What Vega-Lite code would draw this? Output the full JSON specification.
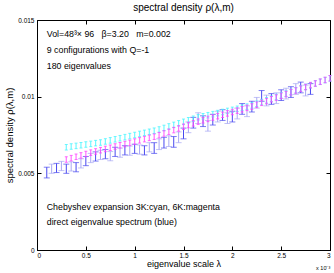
{
  "$schema": "https://vega.github.io/schema/vega-lite/v6.json",
  "width": 293,
  "height": 230,
  "autosize": {"type": "none"},
  "padding": {"left": 37, "top": 20, "right": 4, "bottom": 23},
  "background": "white",
  "config": {
    "font": "Liberation Sans",
    "view": {"stroke": "black", "strokeWidth": 1},
    "axis": {
      "domainColor": "black",
      "tickColor": "black",
      "labelColor": "black",
      "titleColor": "black",
      "labelFont": "Liberation Sans",
      "titleFont": "Liberation Sans",
      "labelFontSize": 6.5,
      "titleFontSize": 9.5,
      "titleFontWeight": "normal",
      "grid": false
    }
  },
  "title": {"text": "spectral density ρ(λ,m)", "fontSize": 10, "fontWeight": "normal", "font": "Liberation Sans", "offset": 4, "anchor": "middle", "color": "black"},
  "datasets": {
    "blue": [
      {"x": 0.10, "y": 0.00505, "e": 0.00035, "g": "a"},
      {"x": 0.15, "y": 0.00530, "e": 0.00030, "g": "b"},
      {"x": 0.20, "y": 0.00535, "e": 0.00030, "g": "a"},
      {"x": 0.25, "y": 0.00548, "e": 0.00030, "g": "b"},
      {"x": 0.30, "y": 0.00530, "e": 0.00030, "g": "a"},
      {"x": 0.35, "y": 0.00545, "e": 0.00030, "g": "b"},
      {"x": 0.40, "y": 0.00540, "e": 0.00030, "g": "a"},
      {"x": 0.45, "y": 0.00565, "e": 0.00030, "g": "b"},
      {"x": 0.50, "y": 0.00580, "e": 0.00030, "g": "a"},
      {"x": 0.55, "y": 0.00600, "e": 0.00030, "g": "b"},
      {"x": 0.60, "y": 0.00610, "e": 0.00030, "g": "a"},
      {"x": 0.65, "y": 0.00620, "e": 0.00030, "g": "b"},
      {"x": 0.70, "y": 0.00625, "e": 0.00030, "g": "a"},
      {"x": 0.75, "y": 0.00612, "e": 0.00030, "g": "b"},
      {"x": 0.80, "y": 0.00640, "e": 0.00030, "g": "a"},
      {"x": 0.85, "y": 0.00635, "e": 0.00030, "g": "b"},
      {"x": 0.90, "y": 0.00650, "e": 0.00030, "g": "a"},
      {"x": 0.95, "y": 0.00648, "e": 0.00030, "g": "b"},
      {"x": 1.00, "y": 0.00660, "e": 0.00030, "g": "a"},
      {"x": 1.05, "y": 0.00655, "e": 0.00030, "g": "b"},
      {"x": 1.10, "y": 0.00650, "e": 0.00030, "g": "a"},
      {"x": 1.15, "y": 0.00670, "e": 0.00030, "g": "b"},
      {"x": 1.20, "y": 0.00665, "e": 0.00035, "g": "a"},
      {"x": 1.25, "y": 0.00690, "e": 0.00035, "g": "b"},
      {"x": 1.30, "y": 0.00700, "e": 0.00035, "g": "a"},
      {"x": 1.35, "y": 0.00710, "e": 0.00035, "g": "b"},
      {"x": 1.40, "y": 0.00705, "e": 0.00035, "g": "a"},
      {"x": 1.45, "y": 0.00735, "e": 0.00035, "g": "b"},
      {"x": 1.50, "y": 0.00760, "e": 0.00035, "g": "a"},
      {"x": 1.55, "y": 0.00800, "e": 0.00035, "g": "b"},
      {"x": 1.60, "y": 0.00830, "e": 0.00035, "g": "a"},
      {"x": 1.65, "y": 0.00860, "e": 0.00035, "g": "b"},
      {"x": 1.70, "y": 0.00840, "e": 0.00035, "g": "a"},
      {"x": 1.75, "y": 0.00810, "e": 0.00035, "g": "b"},
      {"x": 1.80, "y": 0.00850, "e": 0.00035, "g": "a"},
      {"x": 1.85, "y": 0.00870, "e": 0.00035, "g": "b"},
      {"x": 1.90, "y": 0.00880, "e": 0.00035, "g": "a"},
      {"x": 1.95, "y": 0.00860, "e": 0.00035, "g": "b"},
      {"x": 2.00, "y": 0.00870, "e": 0.00035, "g": "a"},
      {"x": 2.05, "y": 0.00890, "e": 0.00035, "g": "b"},
      {"x": 2.10, "y": 0.00920, "e": 0.00035, "g": "a"},
      {"x": 2.15, "y": 0.00905, "e": 0.00035, "g": "b"},
      {"x": 2.20, "y": 0.00935, "e": 0.00035, "g": "a"},
      {"x": 2.25, "y": 0.00960, "e": 0.00035, "g": "b"},
      {"x": 2.30, "y": 0.01005, "e": 0.00035, "g": "a"},
      {"x": 2.35, "y": 0.00975, "e": 0.00035, "g": "b"},
      {"x": 2.40, "y": 0.00985, "e": 0.00035, "g": "a"},
      {"x": 2.45, "y": 0.00990, "e": 0.00035, "g": "b"},
      {"x": 2.50, "y": 0.01010, "e": 0.00035, "g": "a"},
      {"x": 2.55, "y": 0.01020, "e": 0.00035, "g": "b"},
      {"x": 2.60, "y": 0.01030, "e": 0.00035, "g": "a"},
      {"x": 2.65, "y": 0.01050, "e": 0.00035, "g": "b"},
      {"x": 2.70, "y": 0.01060, "e": 0.00035, "g": "a"},
      {"x": 2.75, "y": 0.01040, "e": 0.00035, "g": "b"},
      {"x": 2.80, "y": 0.01050, "e": 0.00035, "g": "a"}
    ],
    "cyan": [
      {"x": 0.30, "y": 0.00670}, {"x": 0.35, "y": 0.00675}, {"x": 0.40, "y": 0.00679}, {"x": 0.45, "y": 0.00683},
      {"x": 0.50, "y": 0.00688}, {"x": 0.55, "y": 0.00692}, {"x": 0.60, "y": 0.00697}, {"x": 0.65, "y": 0.00701},
      {"x": 0.70, "y": 0.00708}, {"x": 0.75, "y": 0.00715}, {"x": 0.80, "y": 0.00722}, {"x": 0.85, "y": 0.00729},
      {"x": 0.90, "y": 0.00736}, {"x": 0.95, "y": 0.00743}, {"x": 1.00, "y": 0.00750}, {"x": 1.05, "y": 0.00757},
      {"x": 1.10, "y": 0.00764}, {"x": 1.15, "y": 0.00771}, {"x": 1.20, "y": 0.00778}, {"x": 1.25, "y": 0.00786},
      {"x": 1.30, "y": 0.00796}, {"x": 1.35, "y": 0.00806}, {"x": 1.40, "y": 0.00816}, {"x": 1.45, "y": 0.00826},
      {"x": 1.50, "y": 0.00836}, {"x": 1.55, "y": 0.00846}, {"x": 1.60, "y": 0.00856}, {"x": 1.65, "y": 0.00865},
      {"x": 1.70, "y": 0.00872}, {"x": 1.75, "y": 0.00879}, {"x": 1.80, "y": 0.00886}, {"x": 1.85, "y": 0.00893},
      {"x": 1.90, "y": 0.00900}, {"x": 1.95, "y": 0.00907}, {"x": 2.00, "y": 0.00914}, {"x": 2.05, "y": 0.00921},
      {"x": 2.10, "y": 0.00928}, {"x": 2.15, "y": 0.00935}, {"x": 2.20, "y": 0.00943}, {"x": 2.25, "y": 0.00954},
      {"x": 2.30, "y": 0.00965}, {"x": 2.35, "y": 0.00976}, {"x": 2.40, "y": 0.00987}, {"x": 2.45, "y": 0.00998},
      {"x": 2.50, "y": 0.01009}, {"x": 2.55, "y": 0.01020}, {"x": 2.60, "y": 0.01031}, {"x": 2.65, "y": 0.01042},
      {"x": 2.70, "y": 0.01053}, {"x": 2.75, "y": 0.01064}, {"x": 2.80, "y": 0.01075}, {"x": 2.85, "y": 0.01086},
      {"x": 2.90, "y": 0.01097}, {"x": 2.95, "y": 0.01108}, {"x": 3.00, "y": 0.01119}
    ],
    "magenta": [
      {"x": 0.30, "y": 0.00590}, {"x": 0.35, "y": 0.00599}, {"x": 0.40, "y": 0.00608}, {"x": 0.45, "y": 0.00617},
      {"x": 0.50, "y": 0.00626}, {"x": 0.55, "y": 0.00635}, {"x": 0.60, "y": 0.00643}, {"x": 0.65, "y": 0.00651},
      {"x": 0.70, "y": 0.00659}, {"x": 0.75, "y": 0.00667}, {"x": 0.80, "y": 0.00675}, {"x": 0.85, "y": 0.00683},
      {"x": 0.90, "y": 0.00691}, {"x": 0.95, "y": 0.00699}, {"x": 1.00, "y": 0.00707}, {"x": 1.05, "y": 0.00715},
      {"x": 1.10, "y": 0.00723}, {"x": 1.15, "y": 0.00731}, {"x": 1.20, "y": 0.00739}, {"x": 1.25, "y": 0.00749},
      {"x": 1.30, "y": 0.00760}, {"x": 1.35, "y": 0.00771}, {"x": 1.40, "y": 0.00782}, {"x": 1.45, "y": 0.00793},
      {"x": 1.50, "y": 0.00804}, {"x": 1.55, "y": 0.00815}, {"x": 1.60, "y": 0.00826}, {"x": 1.65, "y": 0.00837},
      {"x": 1.70, "y": 0.00846}, {"x": 1.75, "y": 0.00855}, {"x": 1.80, "y": 0.00864}, {"x": 1.85, "y": 0.00873},
      {"x": 1.90, "y": 0.00882}, {"x": 1.95, "y": 0.00891}, {"x": 2.00, "y": 0.00900}, {"x": 2.05, "y": 0.00909},
      {"x": 2.10, "y": 0.00918}, {"x": 2.15, "y": 0.00927}, {"x": 2.20, "y": 0.00936}, {"x": 2.25, "y": 0.00948},
      {"x": 2.30, "y": 0.00960}, {"x": 2.35, "y": 0.00971}, {"x": 2.40, "y": 0.00983}, {"x": 2.45, "y": 0.00994},
      {"x": 2.50, "y": 0.01006}, {"x": 2.55, "y": 0.01017}, {"x": 2.60, "y": 0.01029}, {"x": 2.65, "y": 0.01040},
      {"x": 2.70, "y": 0.01052}, {"x": 2.75, "y": 0.01063}, {"x": 2.80, "y": 0.01075}, {"x": 2.85, "y": 0.01086},
      {"x": 2.90, "y": 0.01098}, {"x": 2.95, "y": 0.01109}, {"x": 3.00, "y": 0.01120}
    ],
    "notes": [
      {"x": 0.10, "y": 0.01409, "t": "Vol=48³× 96\u00a0\u00a0\u00a0β=3.20\u00a0\u00a0\u00a0m=0.002"},
      {"x": 0.10, "y": 0.01304, "t": "9 configurations with Q=-1"},
      {"x": 0.10, "y": 0.01200, "t": "180 eigenvalues"},
      {"x": 0.10, "y": 0.00280, "t": "Chebyshev expansion 3K:cyan, 6K:magenta"},
      {"x": 0.10, "y": 0.00183, "t": "direct eigenvalue spectrum (blue)"}
    ],
    "exp": [
      {"x": 2.93, "y": -0.00118, "t": "x 10⁻³"}
    ]
  },
  "resolve": {"axis": {"x": "independent", "y": "independent"}},
  "layer": [
    {
      "data": {"name": "blue"},
      "mark": {"type": "errorbar", "ticks": {"size": 6, "thickness": 1}, "thickness": 1},
      "encoding": {
        "x": {"field": "x", "type": "quantitative", "scale": {"domain": [0, 3], "nice": false, "zero": false},
              "axis": {"values": [0, 0.5, 1, 1.5, 2, 2.5, 3], "format": "~g", "title": "eigenvalue scale λ", "titleFontSize": 9, "ticks": false, "labelPadding": 2, "titlePadding": 1}},
        "y": {"field": "y", "type": "quantitative", "scale": {"domain": [0, 0.015], "nice": false, "zero": false},
              "axis": {"values": [0, 0.005, 0.01, 0.015], "labelExpr": "datum.value > 0.012 ? '0.015' : datum.value > 0.008 ? '0.01' : datum.value > 0.003 ? '0.005' : '0'", "labelOverlap": false, "labelBound": false, "title": "spectral density  ρ(λ,m)", "ticks": false, "labelPadding": 3, "titlePadding": 3}},
        "yError": {"field": "e"},
        "color": {"field": "g", "type": "nominal", "scale": {"domain": ["a", "b"], "range": ["#4848f0", "#a8a8f4"]}, "legend": null}
      }
    },
    {
      "data": {"name": "cyan"},
      "transform": [{"calculate": "0.00018", "as": "e"}],
      "mark": {"type": "errorbar", "color": "#44f4ff", "opacity": 0.75, "ticks": {"size": 3, "thickness": 1}, "thickness": 1.2},
      "encoding": {
        "x": {"field": "x", "type": "quantitative", "axis": {"orient": "top", "values": [0, 0.5, 1, 1.5, 2, 2.5, 3], "labels": false, "title": null, "domain": false, "tickSize": -4}},
        "y": {"field": "y", "type": "quantitative", "axis": {"orient": "right", "values": [0, 0.005, 0.01, 0.015], "labels": false, "title": null, "domain": false, "tickSize": -4}},
        "yError": {"field": "e"}
      }
    },
    {
      "data": {"name": "magenta"},
      "transform": [{"calculate": "0.00018", "as": "e"}],
      "mark": {"type": "errorbar", "color": "#ff40ff", "opacity": 0.75, "ticks": {"size": 3, "thickness": 1}, "thickness": 1.2},
      "encoding": {
        "x": {"field": "x", "type": "quantitative", "axis": {"orient": "bottom", "values": [0, 0.5, 1, 1.5, 2, 2.5, 3], "labels": false, "title": null, "domain": false, "tickSize": -4}},
        "y": {"field": "y", "type": "quantitative", "axis": {"orient": "left", "values": [0, 0.005, 0.01, 0.015], "labels": false, "title": null, "domain": false, "tickSize": -4}},
        "yError": {"field": "e"}
      }
    },
    {
      "data": {"name": "notes"},
      "mark": {"type": "text", "align": "left", "baseline": "middle", "fontSize": 8.8, "font": "Liberation Sans", "color": "black"},
      "encoding": {
        "x": {"field": "x", "type": "quantitative", "axis": null},
        "y": {"field": "y", "type": "quantitative", "axis": null},
        "text": {"field": "t"}
      }
    },
    {
      "data": {"name": "exp"},
      "mark": {"type": "text", "align": "center", "baseline": "middle", "fontSize": 5.5, "font": "Liberation Sans", "color": "black", "clip": false},
      "encoding": {
        "x": {"field": "x", "type": "quantitative", "axis": null},
        "y": {"field": "y", "type": "quantitative", "axis": null},
        "text": {"field": "t"}
      }
    }
  ]
}
